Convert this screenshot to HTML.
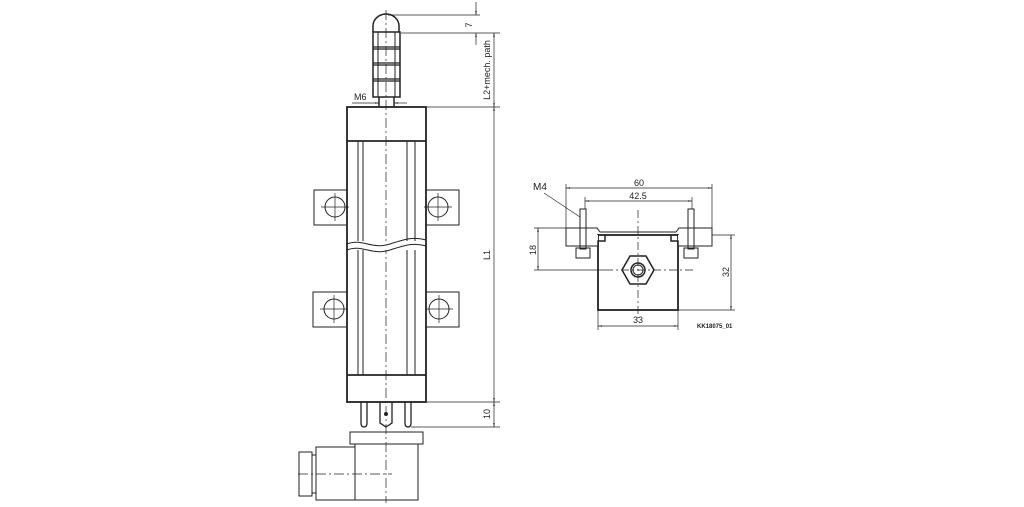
<!DOCTYPE html>
<html><head><meta charset="utf-8"><style>
html,body{margin:0;padding:0;background:#fff;}
svg{display:block}
text{font-family:"Liberation Sans",sans-serif;fill:#222}
</style></head><body>
<svg width="1024" height="507" viewBox="0 0 1024 507" xmlns="http://www.w3.org/2000/svg">
<defs>
<marker id="a" viewBox="0 0 10 10" refX="10" refY="5" markerWidth="6" markerHeight="6" orient="auto-start-reverse"><path d="M0,3 L10,5 L0,7 z" fill="#222"/></marker>
</defs>
<g fill="none" stroke="#222" stroke-width="1">
<line x1="386" y1="10" x2="386" y2="503" stroke-dasharray="10,3,2,3" stroke-width="0.7"/>
<path d="M373,32 L373,26 A13,12 0 0 1 399,26 L399,32" stroke-width="1.5"/>
<rect x="373" y="32" width="27" height="65" stroke-width="1.5"/>
<path d="M373,47h27M373,49h27M373,63h27M373,65h27M373,79h27M373,81h27" stroke-width="1.2"/>
<line x1="378" y1="32" x2="378" y2="97"/><line x1="395" y1="32" x2="395" y2="97"/>
<line x1="379" y1="97" x2="379" y2="107" stroke-width="1.5"/><line x1="394" y1="97" x2="394" y2="107" stroke-width="1.5"/>
<rect x="347" y="107" width="79" height="295" stroke-width="1.8"/>
<line x1="347" y1="141" x2="426" y2="141" stroke-width="1.8"/>
<line x1="347" y1="375" x2="426" y2="375" stroke-width="1.8"/>
<line x1="358" y1="141" x2="358" y2="375"/><line x1="363" y1="141" x2="363" y2="375"/>
<line x1="407" y1="141" x2="407" y2="375"/><line x1="415" y1="141" x2="415" y2="375"/>
<rect x="348" y="241" width="77" height="9" fill="#fff" stroke="none"/>
<path d="M347,244 C362,238 372,250 390,244 S414,237 426,240"/>
<path d="M347,250 C362,244 372,256 390,250 S414,243 426,246"/>
<rect x="314" y="190" width="33" height="35"/><rect x="426" y="190" width="33" height="35"/>
<rect x="313" y="292" width="34" height="35"/><rect x="426" y="292" width="33" height="35"/>
<circle cx="335" cy="207" r="10"/><circle cx="438" cy="207" r="10"/>
<circle cx="334" cy="309" r="10"/><circle cx="439" cy="309" r="10"/>
<path d="M321,207h28M335,193v28M424,207h28M438,193v28M320,309h28M334,295v28M425,309h28M439,295v28" stroke-width="0.7"/>
<path d="M361,402 v21 q0,4 3,4 q3,0 3,-4 v-21" stroke-width="1.3"/>
<path d="M380,402 v21 l6,4 l6,-4 v-21" stroke-width="1.3"/>
<path d="M405,402 v21 q0,4 3,4 q3,0 3,-4 v-21" stroke-width="1.3"/>
<circle cx="386" cy="414" r="1.5" fill="#222"/>
<rect x="350" y="432" width="73" height="12"/>
<rect x="355" y="444" width="63" height="56"/>
<rect x="316" y="447" width="39" height="53"/>
<rect x="312" y="455" width="4" height="38"/>
<rect x="299" y="452" width="13" height="44"/>
<line x1="298" y1="474" x2="392" y2="474" stroke-dasharray="10,3,2,3" stroke-width="0.7"/>
<g stroke-width="0.7">
<line x1="388" y1="15" x2="480" y2="15"/>
<line x1="401" y1="33" x2="500" y2="33"/>
<line x1="476" y1="2" x2="476" y2="15" marker-end="url(#a)"/>
<line x1="476" y1="45" x2="476" y2="33" marker-end="url(#a)"/>
<line x1="427" y1="107" x2="500" y2="107"/>
<line x1="494" y1="33" x2="494" y2="107" marker-start="url(#a)" marker-end="url(#a)"/>
<line x1="494" y1="107" x2="494" y2="402" marker-start="url(#a)" marker-end="url(#a)"/>
<line x1="427" y1="402" x2="500" y2="402"/>
<line x1="411" y1="427" x2="500" y2="427"/>
<line x1="494" y1="402" x2="494" y2="427" marker-start="url(#a)" marker-end="url(#a)"/>
<line x1="352" y1="103" x2="379" y2="103" marker-end="url(#a)"/>
<line x1="407" y1="103" x2="394" y2="103" marker-end="url(#a)"/>
</g>
<line x1="638" y1="210" x2="638" y2="318" stroke-dasharray="8,3,2,3" stroke-width="0.7"/>
<line x1="605" y1="270" x2="695" y2="270" stroke-dasharray="8,3,2,3" stroke-width="0.7"/>
<path d="M566,228 H597 L600,232 H676 L679,228 H712 V246 H678 V241 H671 V235 H605 V241 H598 V246 H566 Z"/>
<rect x="598" y="235" width="80" height="75" stroke-width="1.8"/>
<rect x="586" y="235" width="12" height="11" fill="#fff" stroke="none"/>
<rect x="678" y="235" width="12" height="11" fill="#fff" stroke="none"/>
<path d="M598,246 V241 H605 V235" stroke-width="1.5"/>
<path d="M678,246 V241 H671 V235" stroke-width="1.5"/>
<path d="M566,228 V246 H598 M678,246 H712 V228"/>
<rect x="580" y="209" width="6" height="40"/><rect x="688" y="209" width="6" height="40"/>
<rect x="576" y="248" width="14" height="10"/><rect x="684" y="248" width="14" height="10"/>
<polygon points="622,270 630,256 646,256 654,270 646,284 630,284" stroke-width="1.5"/>
<circle cx="638" cy="270" r="7" stroke-width="1.5"/><circle cx="638" cy="270" r="5"/>
<g stroke-width="0.7">
<line x1="566" y1="228" x2="566" y2="184"/><line x1="712" y1="228" x2="712" y2="184"/>
<line x1="566" y1="188" x2="712" y2="188" marker-start="url(#a)" marker-end="url(#a)"/>
<line x1="585" y1="209" x2="585" y2="197"/><line x1="692" y1="209" x2="692" y2="197"/>
<line x1="585" y1="201" x2="692" y2="201" marker-start="url(#a)" marker-end="url(#a)"/>
<line x1="534" y1="228" x2="566" y2="228"/><line x1="534" y1="270" x2="605" y2="270"/>
<line x1="538" y1="228" x2="538" y2="270" marker-start="url(#a)" marker-end="url(#a)"/>
<line x1="712" y1="235" x2="735" y2="235"/><line x1="678" y1="310" x2="735" y2="310"/>
<line x1="731" y1="235" x2="731" y2="310" marker-start="url(#a)" marker-end="url(#a)"/>
<line x1="598" y1="310" x2="598" y2="330"/><line x1="678" y1="310" x2="678" y2="330"/>
<line x1="598" y1="326" x2="678" y2="326" marker-start="url(#a)" marker-end="url(#a)"/>
<line x1="544" y1="193" x2="580" y2="217"/>
</g>
</g>
<g font-size="9">
<text x="354" y="100">M6</text>
<text transform="translate(472,25) rotate(-90)" text-anchor="middle">7</text>
<text transform="translate(490,70) rotate(-90)" text-anchor="middle">L2+mech. path</text>
<text transform="translate(490,255) rotate(-90)" text-anchor="middle">L1</text>
<text transform="translate(490,414) rotate(-90)" text-anchor="middle">10</text>
<text x="639" y="186" text-anchor="middle">60</text>
<text x="638" y="199" text-anchor="middle">42.5</text>
<text x="533" y="190" font-size="10">M4</text>
<text transform="translate(536,250) rotate(-90)" text-anchor="middle">18</text>
<text transform="translate(729,272) rotate(-90)" text-anchor="middle">32</text>
<text x="638" y="323" text-anchor="middle">33</text>
<text x="697" y="328" font-size="6" font-weight="bold">KK18075_01</text>
</g>
</svg>
</body></html>
